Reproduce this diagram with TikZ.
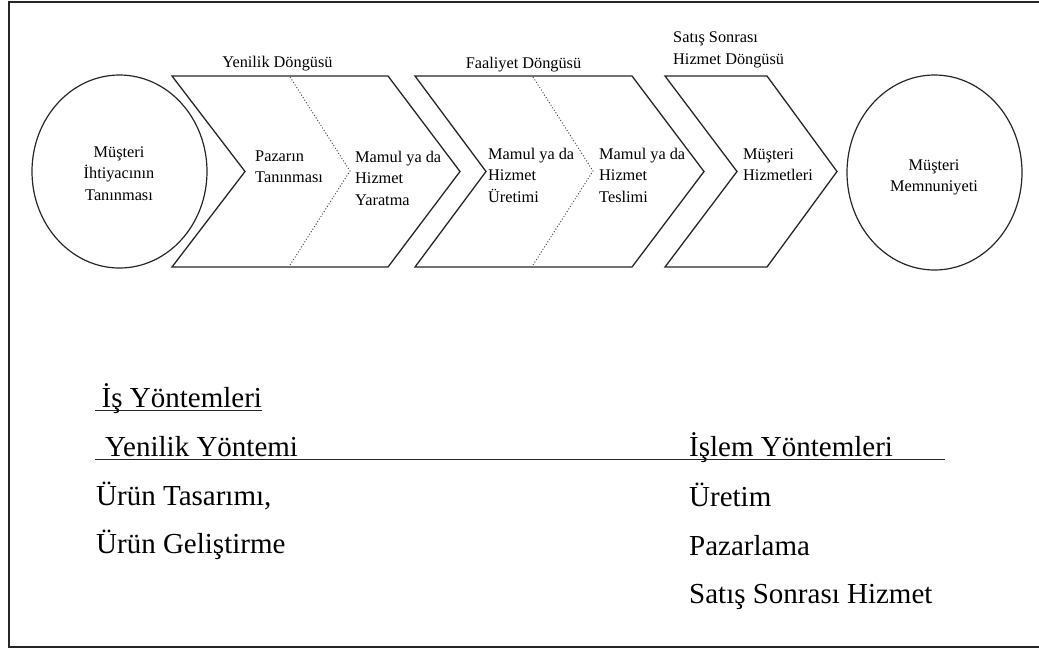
\documentclass[tikz,border=0pt]{standalone}
\usepackage{fontspec}
\setmainfont{Liberation Serif}
\newcommand{\smallfs}{\fontsize{16.3}{21.5}\selectfont}
\newcommand{\bigfs}{\fontsize{29}{35}\selectfont}
% stacked lines whose baseline is the first line
\newcommand{\stackL}[1]{\begin{tabular}[t]{@{}l@{}}#1\end{tabular}}
\newcommand{\stackC}[1]{\begin{tabular}[t]{@{}c@{}}#1\end{tabular}}
\tikzset{
  frameline/.style={draw=black!85, line width=2pt},
  chev/.style={draw=black!85, line width=1.3pt, line join=miter},
  divider/.style={draw=black!70, dotted, line width=1pt},
  oval/.style={draw=black!85, line width=1.2pt},
  rule/.style={draw=black!85, line width=1.4pt},
  lbl/.style={inner sep=0pt, font=\smallfs},
  big/.style={inner sep=0pt, font=\bigfs},
}
\begin{document}
\begin{tikzpicture}[x=1pt, y=-1pt]
\useasboundingbox (0,0) rectangle (1039,649);

% outer frame (open on the right)
\draw[frameline] (1045,2) -- (8.5,2) -- (8.5,647) -- (1045,647);

% end ovals
\draw[oval] (119.5,171.5) ellipse [x radius=87.5pt, y radius=96.5pt];
\draw[oval] (934.5,172.5) ellipse [x radius=87.5pt, y radius=97.5pt];

% chevrons
\draw[chev] (172,76) -- (388,76) -- (460,171.5) -- (388,267) -- (172,267) -- (245,171.5) -- cycle;
\draw[chev] (415,76) -- (632,76) -- (704,171.5) -- (632,267) -- (415,267) -- (486,171.5) -- cycle;
\draw[chev] (665,76) -- (767,76) -- (837,171.5) -- (767,267) -- (665,267) -- (737,171.5) -- cycle;

% dotted dividers inside the first two chevrons
\draw[divider] (290,77) -- (350,171) -- (290,265);
\draw[divider] (533,77) -- (593,171) -- (533,265);

% cycle titles
\node[lbl, anchor=base] (ycycle) at (277.5,67) {Yenilik Döngüsü};
\node[lbl, anchor=base] (fcycle) at (523.5,68) {Faaliyet Döngüsü};
\node[lbl, anchor=base west] (scycle) at (673,42.5) {\stackL{Satış Sonrası\\Hizmet Döngüsü}};

% stage texts
\node[lbl, anchor=base] (need) at (119,157) {\stackC{Müşteri\\İhtiyacının\\Tanınması}};
\node[lbl, anchor=base west] (market) at (255,161) {\stackL{Pazarın\\Tanınması}};
\node[lbl, anchor=base west] (create) at (355,162) {\stackL{Mamul ya da\\Hizmet\\Yaratma}};
\node[lbl, anchor=base west] (produce) at (488,159) {\stackL{Mamul ya da\\Hizmet\\Üretimi}};
\node[lbl, anchor=base west] (deliver) at (599,159) {\stackL{Mamul ya da\\Hizmet\\Teslimi}};
\node[lbl, anchor=base west] (service) at (743,159) {\stackL{Müşteri\\Hizmetleri}};
\node[lbl, anchor=base] (satisf) at (934,170) {\stackC{Müşteri\\Memnuniyeti}};

% methods list
\node[big, anchor=base west] (methods) at (101.5,407) {İş Yöntemleri};
\coordinate (ulL) at (95,410.7);
\coordinate (ulR) at (262,410.7);
\draw[rule, line width=1.2pt] (ulL) -- (ulR);

\node[big, anchor=base west] (innov) at (105,456) {Yenilik Yöntemi};
\node[big, anchor=base west] (ops) at (689,456) {İşlem Yöntemleri};
\coordinate (ruleL) at (95,459.5);
\coordinate (ruleR) at (945,459.5);
\draw[rule] (ruleL) -- (ruleR);

\node[big, anchor=base west] (design) at (96,505) {Ürün Tasarımı,};
\node[big, anchor=base west] (develop) at (96,553) {Ürün Geliştirme};
\node[big, anchor=base west] (prod) at (689,506) {Üretim};
\node[big, anchor=base west] (mkt) at (689,555) {Pazarlama};
\node[big, anchor=base west] (after) at (689,603) {Satış Sonrası Hizmet};
\end{tikzpicture}
\end{document}
